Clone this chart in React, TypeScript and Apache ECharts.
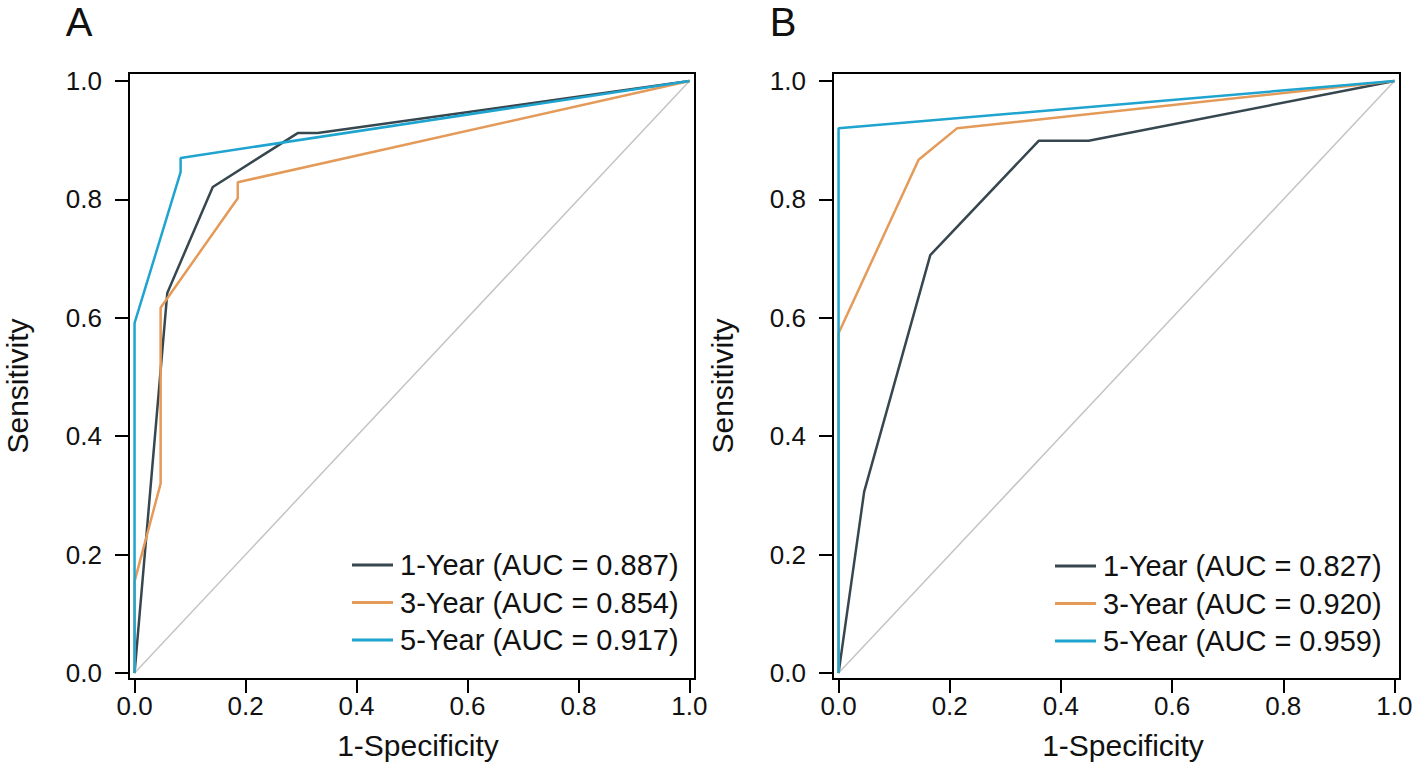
import React, { useEffect, useRef } from "react";
import * as echarts from "echarts";

// Panel A ROC points [1-specificity, sensitivity]
const a1Year: number[][] = [[0, 0], [0.059, 0.642], [0.141, 0.821], [0.294, 0.912], [0.33, 0.912], [1, 1]];
const a3Year: number[][] = [[0, 0], [0, 0.155], [0.047, 0.32], [0.047, 0.617], [0.186, 0.802], [0.186, 0.829], [1, 1]];
const a5Year: number[][] = [[0, 0], [0, 0.591], [0.083, 0.846], [0.083, 0.87], [1, 1]];
// Panel B ROC points
const b1Year: number[][] = [[0, 0], [0.046, 0.306], [0.165, 0.706], [0.36, 0.899], [0.45, 0.899], [1, 1]];
const b3Year: number[][] = [[0, 0], [0, 0.574], [0.144, 0.867], [0.213, 0.92], [1, 1]];
const b5Year: number[][] = [[0, 0], [0, 0.92], [1, 1]];
const diagonal: number[][] = [[0, 0], [1, 1]];

const aNames = ["1-Year (AUC = 0.887)", "3-Year (AUC = 0.854)", "5-Year (AUC = 0.917)"];
const bNames = ["1-Year (AUC = 0.827)", "3-Year (AUC = 0.920)", "5-Year (AUC = 0.959)"];
const tickValues = [0, 0.2, 0.4, 0.6, 0.8, 1.0];
const panelLabels = ["A", "B"];
const xTitle = "1-Specificity";
const yTitle = "Sensitivity";

const COLORS = ["#37474f", "#e49a58", "#1fa4d0"];
const FONT = "Liberation Sans, Arial, sans-serif";

export default function App() {
  const ref = useRef<HTMLDivElement>(null);
  useEffect(() => {
    if (!ref.current) return;
    const chart = echarts.init(ref.current, undefined, { renderer: "svg" });
    const grids = [
      { left: 129, top: 73, width: 566, height: 606 },
      { left: 833, top: 73, width: 567, height: 606 },
    ];
    const mkX = (i: number) => ({
      type: "value",
      gridIndex: i,
      min: -0.01,
      max: 1.01,
      axisLine: { show: false, onZero: false },
      axisTick: { show: true, inside: false, length: 14, customValues: tickValues, lineStyle: { color: "#000", width: 2 } },
      axisLabel: { customValues: tickValues, formatter: (v: number) => v.toFixed(1), fontSize: 26, color: "#111", fontFamily: FONT, margin: 14 },
      splitLine: { show: false },
    });
    const mkY = (i: number) => ({
      type: "value",
      gridIndex: i,
      min: -0.01,
      max: 1.0135,
      axisLine: { show: false, onZero: false },
      axisTick: { show: true, inside: false, length: 14, customValues: tickValues, lineStyle: { color: "#000", width: 2 } },
      axisLabel: { customValues: tickValues, formatter: (v: number) => v.toFixed(1), fontSize: 26, color: "#111", fontFamily: FONT, margin: 27 },
      splitLine: { show: false },
    });
    const line = (name: string, data: number[][], color: string, i: number, width = 2.5) => ({
      type: "line",
      name,
      data,
      xAxisIndex: i,
      yAxisIndex: i,
      showSymbol: false,
      symbol: "none",
      lineStyle: { color, width },
      itemStyle: { color },
    });
    const series: any[] = [
      line("diagA", diagonal, "#c4c4c4", 0, 1.5),
      line(aNames[0], a1Year, COLORS[0], 0),
      line(aNames[1], a3Year, COLORS[1], 0),
      line(aNames[2], a5Year, COLORS[2], 0),
      line("diagB", diagonal, "#c4c4c4", 1, 1.5),
      line(bNames[0], b1Year, COLORS[0], 1),
      line(bNames[1], b3Year, COLORS[1], 1),
      line(bNames[2], b5Year, COLORS[2], 1),
    ];
    const mkLegend = (names: string[], left: number, top: number) => ({
      data: names,
      orient: "vertical",
      left,
      top,
      padding: 0,
      icon: "rect",
      itemWidth: 41,
      itemHeight: 3,
      itemGap: 7.5,
      selectedMode: false,
      textStyle: { fontSize: 29, color: "#111", fontFamily: FONT, lineHeight: 30, padding: [0, 0, 0, 2] },
    });
    const titleText = (text: string, x: number, y: number, size: number, rotation = 0, vAlign = "middle") => ({
      type: "text",
      x,
      y,
      rotation,
      style: { text, fontSize: size, lineHeight: size, fontFamily: FONT, fill: "#111", align: "center", verticalAlign: vAlign },
    });
    chart.setOption({
      animation: false,
      backgroundColor: "#fff",
      grid: grids.map((g) => ({ ...g, show: true, borderColor: "#000", borderWidth: 2, backgroundColor: "transparent" })),
      xAxis: [mkX(0), mkX(1)],
      yAxis: [mkY(0), mkY(1)],
      legend: [mkLegend(aNames, 352, 550), mkLegend(bNames, 1055, 551)],
      series,
      graphic: [
        titleText(panelLabels[0], 79, 2, 40, 0, "top"),
        titleText(panelLabels[1], 783, 2, 40, 0, "top"),
        titleText(xTitle, 418, 745, 30),
        titleText(xTitle, 1123, 745, 30),
        titleText(yTitle, 17, 386, 30, Math.PI / 2),
        titleText(yTitle, 722, 386, 30, Math.PI / 2),
      ],
    });
    return () => chart.dispose();
  }, []);
  return <div ref={ref} style={{ position: "fixed", left: 0, top: 0, width: 1416, height: 768 }} />;
}
